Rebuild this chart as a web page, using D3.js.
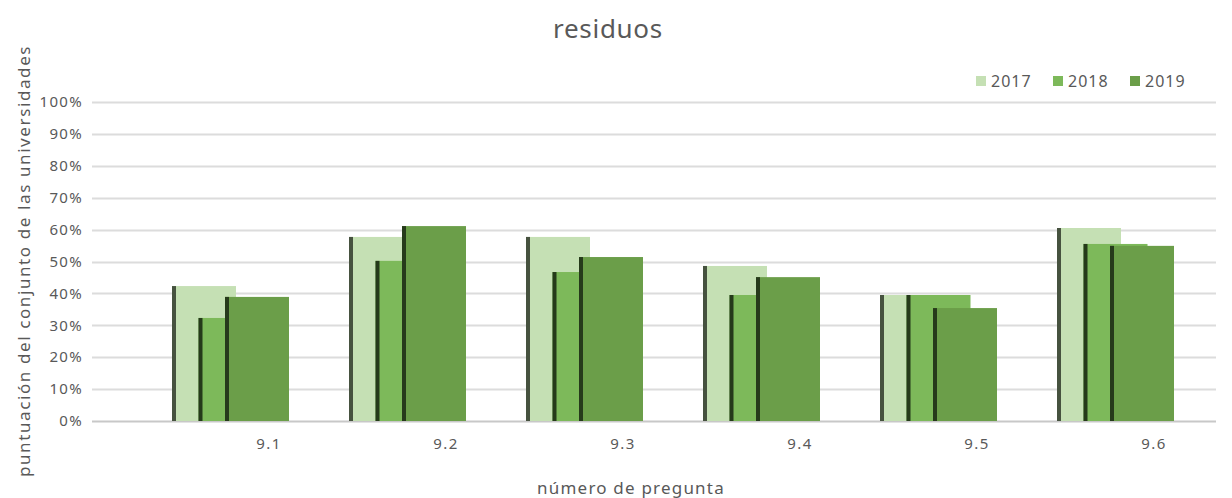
<!DOCTYPE html>
<html>
<head>
<meta charset="utf-8">
<script src="https://cdn.jsdelivr.net/npm/d3@7"></script>
<style>
  body { margin: 0; background: #fff; }
  text { font-family: "Noto Sans", "Open Sans", sans-serif; fill: #595959; }
</style>
</head>
<body>
<svg id="chart" width="1232" height="498"></svg>
<script>
var categories = ["9.1", "9.2", "9.3", "9.4", "9.5", "9.6"];
var years = ["2017", "2018", "2019"];
var values2017 = [0.423, 0.577, 0.577, 0.486, 0.395, 0.605];
var values2018 = [0.323, 0.502, 0.467, 0.395, 0.395, 0.555];
var values2019 = [0.389, 0.611, 0.514, 0.451, 0.354, 0.549];
var yTicks = [0, 0.1, 0.2, 0.3, 0.4, 0.5, 0.6, 0.7, 0.8, 0.9, 1];

var series = [
	{ year: "2017", values: values2017, fill: "#c5e0b4", edge: "#46523f" },
	{ year: "2018", values: values2018, fill: "#7db95a", edge: "#253a1a" },
	{ year: "2019", values: values2019, fill: "#6b9e49", edge: "#263a1b" }
];

var svg = d3.select("#chart");
var width = +svg.attr("width");
var height = +svg.attr("height");

var y = d3.scaleLinear().domain([0, 1]).range([421, 102]);
var x = d3.scaleBand().domain(categories).range([172, 172 + 177 * 6]);
var offset = d3.scalePoint().domain(years).range([0, 53]);
var barW = 64;
var edgeW = 4;

// gridlines
svg.append("g")
	.selectAll("line")
	.data(yTicks)
	.enter().append("line")
	.attr("x1", 92)
	.attr("x2", 1216)
	.attr("y1", function (d) { return Math.round(y(d)) + 0.5; })
	.attr("y2", function (d) { return Math.round(y(d)) + 0.5; })
	.attr("stroke", function (d) { return d === 0 ? "#c8c8c8" : "#dcdcdc"; })
	.attr("stroke-width", 2);

// y tick labels
svg.append("g")
	.selectAll("text")
	.data(yTicks)
	.enter().append("text")
	.attr("x", 83)
	.attr("y", function (d) { return y(d); })
	.attr("dy", "0.35em")
	.attr("text-anchor", "end")
	.style("font-size", "15px")
	.style("letter-spacing", "1.3px")
	.text(d3.format(".0%"));

// bars
series.forEach(function (s) {
	var g = svg.append("g").attr("class", "s" + s.year);
	g.selectAll("rect.bar")
		.data(s.values)
		.enter().append("rect")
		.attr("class", "bar")
		.attr("x", function (d, i) { return x(categories[i]) + offset(s.year); })
		.attr("y", function (d) { return y(d); })
		.attr("width", barW)
		.attr("height", function (d) { return y(0) - y(d); })
		.attr("fill", s.fill);
	g.selectAll("rect.edge")
		.data(s.values)
		.enter().append("rect")
		.attr("class", "edge")
		.attr("x", function (d, i) { return x(categories[i]) + offset(s.year); })
		.attr("y", function (d) { return y(d); })
		.attr("width", edgeW)
		.attr("height", function (d) { return y(0) - y(d); })
		.attr("fill", s.edge);
});

// x tick labels
svg.append("g")
	.selectAll("text")
	.data(categories)
	.enter().append("text")
	.attr("x", function (d) { return x(d) + 97; })
	.attr("y", 449)
	.attr("text-anchor", "middle")
	.style("font-size", "15px")
	.style("letter-spacing", "1.5px")
	.text(function (d) { return d; });

// title
svg.append("text")
	.attr("x", 608)
	.attr("y", 38)
	.attr("text-anchor", "middle")
	.style("font-size", "26px")
	.style("letter-spacing", "0.7px")
	.text("residuos");

// axis titles
svg.append("text")
	.attr("x", 631)
	.attr("y", 494)
	.attr("text-anchor", "middle")
	.style("font-size", "17px")
	.style("letter-spacing", "1.2px")
	.text("número de pregunta");

svg.append("text")
	.attr("transform", "translate(30,261) rotate(-90)")
	.attr("text-anchor", "middle")
	.style("font-size", "17px")
	.style("letter-spacing", "1.6px")
	.text("puntuación del conjunto de las universidades");

// legend
var legend = svg.append("g")
	.selectAll("g")
	.data(series)
	.enter().append("g")
	.attr("transform", function (d, i) { return "translate(" + (976 + i * 77) + ",76)"; });

legend.append("rect")
	.attr("width", 10)
	.attr("height", 10)
	.attr("fill", function (d) { return d.fill; });

legend.append("text")
	.attr("x", 15)
	.attr("y", 5)
	.attr("dy", "0.35em")
	.style("font-size", "16px")
	.style("letter-spacing", "1px")
	.text(function (d) { return d.year; });
</script>
</body>
</html>
